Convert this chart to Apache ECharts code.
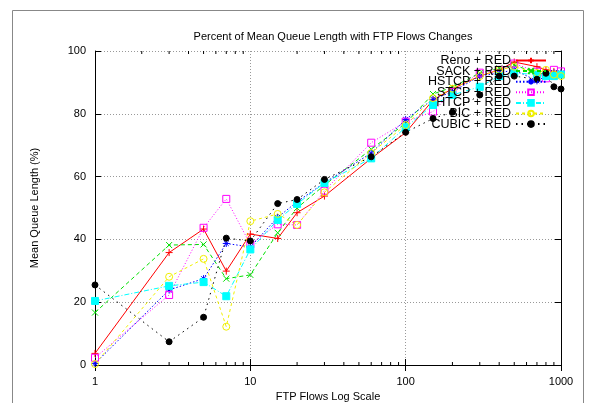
<!DOCTYPE html>
<html><head><meta charset="utf-8">
<script src="https://cdn.jsdelivr.net/npm/echarts@6/dist/echarts.min.js"></script>
<style>html,body{margin:0;padding:0;background:#fff}#c{width:595px;height:403px}</style>
</head><body><div id="c"></div>
<script>
const xValues = [1,3,5,7,10,15,20,30,60,100,150,200,300,400,500,700,800,900,1000];
const seriesNames = ["Reno + RED","SACK + RED","HSTCP + RED","STCP + RED","HTCP + RED","BIC + RED","CUBIC + RED"];
const reno  = [3.7,35.8,43.3,29.9,41.7,40.3,48.5,53.8,65.8,74.0,84.4,88.0,92.0,94.0,96.5,95.0,94.0,93.5,93.0];
const sack  = [16.7,38.2,38.4,27.5,28.7,42.1,50.0,57.3,68.7,77.0,86.3,88.5,93.0,94.5,95.5,93.0,92.5,93.0,92.5];
const hstcp = [0.5,23.9,27.5,38.7,37.6,47.0,52.0,58.0,67.5,78.2,84.6,87.0,92.0,93.0,94.0,90.5,92.0,93.0,93.0];
const stcp  = [2.3,22.3,43.7,52.9,38.4,44.8,44.6,55.5,70.8,77.5,80.7,87.0,93.1,94.0,96.0,93.4,91.3,94.0,93.5];
const htcp  = [20.4,25.2,26.4,21.9,36.8,46.2,51.3,58.0,65.8,75.7,82.8,86.0,88.6,92.0,93.0,92.5,92.0,92.0,92.5];
const bic   = [0.3,28.1,33.8,12.2,45.8,48.1,44.6,55.0,67.5,76.4,85.0,88.0,92.0,94.0,95.0,93.0,94.0,92.5,92.0];
const cubic = [25.5,7.4,15.2,40.4,39.5,51.4,52.7,59.1,66.3,74.1,78.5,80.5,86.0,92.0,92.0,91.0,92.9,88.6,87.9];
const yTicks = [0,20,40,60,80,100];
const xTickLabels = {1:'1', 10:'10', 100:'100', 1000:'1000'};
const xMinorTicks = [2,3,4,5,6,7,8,9,20,30,40,50,60,70,80,90,200,300,400,500,600,700,800,900];

const FONT = "Liberation Sans";
const plusPath = 'path://M0,5L10,5M5,0L5,10';
const crossPath = 'path://M0,0L10,10M10,0L0,10';
const starPath = 'path://M0,5L10,5M5,0L5,10M1.5,1.5L8.5,8.5M8.5,1.5L1.5,8.5';

const styles = [
  {data: reno,  color:'#ff0000', symbol: plusPath,  size: 7, type:'solid', fill:false},
  {data: sack,  color:'#00e000', symbol: crossPath, size: 6, type:[4,3], fill:false},
  {data: hstcp, color:'#0000ff', symbol: starPath,  size: 7, type:[1.5,2], fill:false},
  {data: stcp,  color:'#ff00ff', symbol: 'rect',    size: 7, type:[1,2], fill:false},
  {data: htcp,  color:'#00ffff', symbol: 'rect',    size: 7, type:[5,2,1,2], fill:true},
  {data: bic,   color:'#f0f000', symbol: 'circle',  size: 7, type:[3,3], fill:false},
  {data: cubic, color:'#000000', symbol: 'circle',  size: 6, type:[1.5,4], fill:true}
];

const series = styles.map((s, i) => ({
  name: seriesNames[i],
  type: 'line',
  data: xValues.map((x, j) => [x, s.data[j]]),
  symbol: s.symbol,
  symbolSize: s.size,
  showAllSymbol: true,
  lineStyle: {color: s.color, width: 1, type: s.type},
  itemStyle: {color: s.fill ? s.color : 'rgba(0,0,0,0)', borderColor: s.color, borderWidth: 1},
  emphasis: {disabled: true},
  animation: false,
  z: 3
}));

series.push({
  type: 'custom',
  name: 'minor',
  data: xMinorTicks.map(v => [v, 0]),
  silent: true,
  animation: false,
  renderItem: function (params, api) {
    const v = api.value(0);
    const b = api.coord([v, 0]);
    const t = api.coord([v, 100]);
    return {type: 'group', children: [
      {type: 'line', shape: {x1: b[0], y1: b[1], x2: b[0], y2: b[1] - 3}, style: {stroke: '#000', lineWidth: 1}},
      {type: 'line', shape: {x1: t[0], y1: t[1], x2: t[0], y2: t[1] + 3}, style: {stroke: '#000', lineWidth: 1}}
    ]};
  },
  z: 4
});

const chart = echarts.init(document.getElementById('c'), null, {renderer: 'canvas'});
chart.setOption({
  backgroundColor: '#fff',
  animation: false,
  textStyle: {fontFamily: FONT},
  title: {
    text: 'Percent of Mean Queue Length with FTP Flows Changes',
    left: 328, top: 26, textAlign: 'center',
    textStyle: {fontFamily: FONT, fontSize: 11, fontWeight: 'normal', color: '#000'}
  },
  grid: {left: 95, right: 34, top: 51, bottom: 38, containLabel: false, outerBoundsMode: 'none'},
  legend: {
    data: seriesNames,
    orient: 'vertical',
    right: 48, top: 54, padding: 0,
    align: 'right',
    itemWidth: 30, itemHeight: 7, itemGap: -2.4,
    textStyle: {fontFamily: FONT, fontSize: 12.5, color: '#000'},
    selectedMode: false
  },
  xAxis: [{
    type: 'log', logBase: 10, min: 1, max: 1000,
    name: 'FTP Flows Log Scale', nameLocation: 'middle', nameGap: 25,
    nameTextStyle: {fontFamily: FONT, fontSize: 11, color: '#000'},
    axisLine: {show: true, lineStyle: {color: '#000', width: 1}},
    axisTick: {show: true, inside: true, length: 6, lineStyle: {color: '#000'}},
    axisLabel: {fontFamily: FONT, fontSize: 11, color: '#000', margin: 11,
      formatter: v => xTickLabels[Math.round(v)] || ''},
    splitLine: {show: true, lineStyle: {color: '#999', type: [1, 2], width: 1}},
    minorTick: {show: false}
  }, {
    type: 'log', logBase: 10, min: 1, max: 1000, position: 'top',
    axisLine: {show: true, lineStyle: {color: '#000', width: 1}},
    axisTick: {show: true, inside: true, length: 6, lineStyle: {color: '#000'}},
    axisLabel: {show: false},
    splitLine: {show: false}
  }],
  yAxis: [{
    type: 'value', min: 0, max: 100, interval: 20,
    name: 'Mean Queue Length (%)', nameLocation: 'middle', nameGap: 55, nameRotate: 90,
    nameTextStyle: {fontFamily: FONT, fontSize: 11, color: '#000'},
    axisLine: {show: true, lineStyle: {color: '#000', width: 1}},
    axisTick: {show: true, inside: true, length: 6, lineStyle: {color: '#000'}},
    axisLabel: {fontFamily: FONT, fontSize: 11, color: '#000', margin: 9,
      formatter: v => yTicks.includes(v) ? String(v) : ''},
    splitLine: {show: true, lineStyle: {color: '#999', type: [1, 2], width: 1}}
  }, {
    type: 'value', min: 0, max: 100, interval: 20, position: 'right',
    axisLine: {show: true, lineStyle: {color: '#000', width: 1}},
    axisTick: {show: true, inside: true, length: 6, lineStyle: {color: '#000'}},
    axisLabel: {show: false},
    splitLine: {show: false}
  }],
  graphic: [{
    type: 'rect', shape: {x: 12.5, y: 10.5, width: 571, height: 400},
    style: {fill: 'none', stroke: '#888', lineWidth: 1}, silent: true, z: 0
  }],
  series: series
});
</script></body></html>
